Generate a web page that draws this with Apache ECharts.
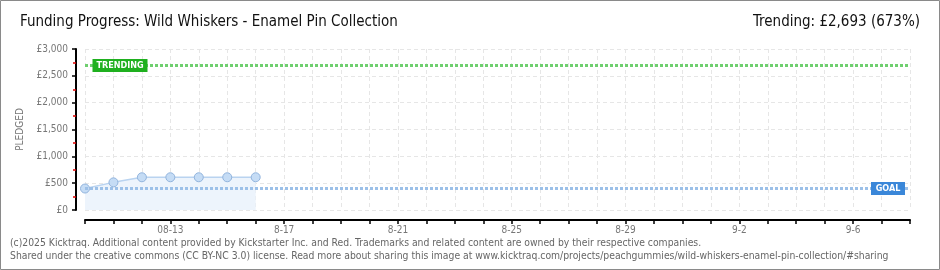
<!DOCTYPE html>
<html><head><meta charset="utf-8">
<script src="https://cdn.jsdelivr.net/npm/echarts@6/dist/echarts.min.js"></script>
<style>html,body{margin:0;padding:0;background:#fff}#c{width:940px;height:270px}</style>
</head><body><div id="c"></div>
<script>
const categories = ['8-10','8-11','8-12','8-13','8-14','8-15','8-16','8-17','8-18','8-19','8-20','8-21','8-22','8-23','8-24','8-25','8-26','8-27','8-28','8-29','8-30','8-31','9-1','9-2','9-3','9-4','9-5','9-6','9-7','9-8'];
const pledged = [400, 515, 610, 610, 610, 610, 610];
const tickLabels = ['08-13','8-17','8-21','8-25','8-29','9-2','9-6'];
const goal = 400;
const trending = 2693;
const titleText = 'Funding Progress: Wild Whiskers - Enamel Pin Collection';
const trendText = 'Trending: £2,693 (673%)';
const footer1 = '(c)2025 Kicktraq. Additional content provided by Kickstarter Inc. and Red. Trademarks and related content are owned by their respective companies.';
const footer2 = 'Shared under the creative commons (CC BY-NC 3.0) license. Read more about sharing this image at www.kicktraq.com/projects/peachgummies/wild-whiskers-enamel-pin-collection/#sharing';

const FONT = 'DejaVu Sans Condensed, DejaVu Sans, sans-serif';
const chart = echarts.init(document.getElementById('c'), null, {renderer:'canvas'});
const fmt = v => '£' + v.toLocaleString('en-US');
chart.setOption({
  animation: false,
  textStyle: {fontFamily: FONT},
  graphic: [
    {type:'rect', shape:{x:0.5,y:0.5,width:939,height:269}, style:{fill:'none', stroke:'#8a8a8a', lineWidth:1}, silent:true},
    {type:'text', left:20, top:15, style:{text:titleText, font:'15px ' + FONT, fill:'#111'}},
    {type:'text', right:20, top:15, style:{text:trendText, font:'15px ' + FONT, fill:'#111'}},
    {type:'text', left:10, top:238, style:{text:footer1, font:'10.3px ' + FONT, fill:'#666'}},
    {type:'text', left:10, top:251, style:{text:footer2, font:'10.3px ' + FONT, fill:'#666'}}
  ],
  grid: {left:85, right:30, top:49, bottom:60, containLabel:false},
  xAxis: {
    type:'category', data:categories, boundaryGap:false, offset:10,
    axisLine:{onZero:false, lineStyle:{color:'#000', width:2}},
    axisTick:{show:true, interval:0, length:4, lineStyle:{color:'#000', width:1.5}},
    axisLabel:{interval:(i)=> (i-3)%4===0 && i>=3, formatter:(v,i)=> tickLabels[(i-3)/4] || '', color:'#777', fontSize:10, margin:5},
    splitLine:{show:true, interval:0, lineStyle:{color:'#e6e6e6', type:[4,3]}}
  },
  yAxis: {
    type:'value', min:0, max:3000, interval:500, offset:9,
    name:'PLEDGED', nameLocation:'middle', nameGap:50, nameRotate:90,
    nameTextStyle:{color:'#777', fontSize:10, letterSpacing:1.5},
    axisLine:{show:true, onZero:false, lineStyle:{color:'#000', width:2}},
    axisTick:{show:true, length:4, lineStyle:{color:'#000', width:1.5}},
    minorTick:{show:true, splitNumber:2, length:3, lineStyle:{color:'#e00000', width:1.5}},
    axisLabel:{formatter:fmt, color:'#777', fontSize:10, margin:8},
    splitLine:{show:true, lineStyle:{color:'#e6e6e6', type:[4,3]}}
  },
  series: [
    {
      type:'line', data:pledged, symbol:'circle', symbolSize:9,
      lineStyle:{color:'#b9d3f0', width:1.5},
      itemStyle:{color:'#c5dcf5', borderColor:'#92b4dd', borderWidth:1},
      areaStyle:{color:'#edf4fc', opacity:1},
      z:3,
      markLine:{
        silent:true, symbol:'none', label:{show:false},
        data:[
          {yAxis:trending, lineStyle:{color:'#6fcf6f', type:[3,2], width:3}},
          {yAxis:goal, lineStyle:{color:'#9cc0e8', type:[3,2], width:3}}
        ]
      },
      markPoint:{
        silent:true,
        data:[
          {coord:[0, trending], symbol:'rect', symbolSize:[55,13], symbolOffset:[35,0],
           itemStyle:{color:'#1fb01f'}, label:{show:true, formatter:'TRENDING', color:'#fff', fontSize:9, fontWeight:'bold', letterSpacing:1}},
          {coord:[categories.length-1, goal], symbol:'rect', symbolSize:[34,13], symbolOffset:[-22,0],
           itemStyle:{color:'#3a87d9'}, label:{show:true, formatter:'GOAL', color:'#fff', fontSize:9, fontWeight:'bold', letterSpacing:1}}
        ]
      }
    }
  ]
});
</script></body></html>
